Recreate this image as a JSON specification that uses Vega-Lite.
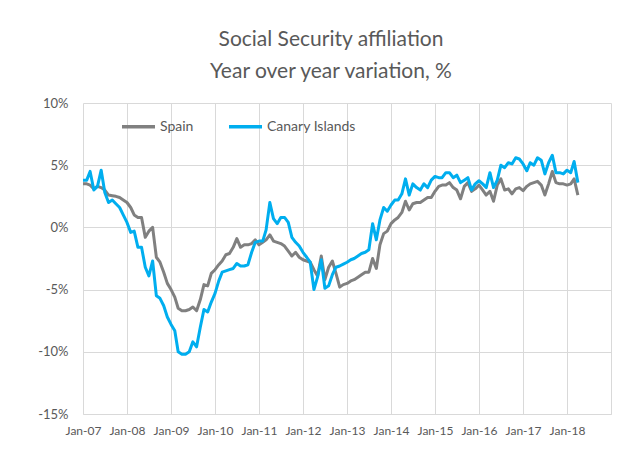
{
  "$schema": "https://vega.github.io/schema/vega-lite/v6.json",
  "width": 528,
  "height": 311,
  "autosize": {"type": "none"},
  "padding": {"left": 83, "top": 103, "right": 19, "bottom": 41},
  "background": "white",
  "title": {
    "text": ["Social Security affiliation", "Year over year variation, %"],
    "anchor": "middle",
    "dx": -16,
    "offset": 15,
    "font": "Lato",
    "fontSize": 21,
    "fontWeight": "normal",
    "color": "#595959",
    "lineHeight": 32
  },
  "config": {
    "view": {"stroke": null},
    "font": "Lato"
  },
  "data": {
    "values": [
      {"d":"2007-01","s":3.5,"c":3.8},{"d":"2007-02","s":3.5,"c":3.8},{"d":"2007-03","s":3.4,"c":4.5},{"d":"2007-04","s":3.1,"c":3.0},{"d":"2007-05","s":3.3,"c":3.3},{"d":"2007-06","s":3.2,"c":4.6},{"d":"2007-07","s":3.0,"c":2.8},{"d":"2007-08","s":2.6,"c":2.0},{"d":"2007-09","s":2.55,"c":2.2},{"d":"2007-10","s":2.5,"c":1.9},{"d":"2007-11","s":2.4,"c":1.6},{"d":"2007-12","s":2.2,"c":1.0},
      {"d":"2008-01","s":2.0,"c":0.4},{"d":"2008-02","s":1.6,"c":-0.4},{"d":"2008-03","s":1.0,"c":-0.3},{"d":"2008-04","s":0.8,"c":-1.6},{"d":"2008-05","s":0.8,"c":-1.6},{"d":"2008-06","s":-0.8,"c":-3.2},{"d":"2008-07","s":-0.3,"c":-3.9},{"d":"2008-08","s":0.0,"c":-2.7},{"d":"2008-09","s":-2.4,"c":-5.5},{"d":"2008-10","s":-2.8,"c":-5.7},{"d":"2008-11","s":-3.6,"c":-6.3},{"d":"2008-12","s":-4.5,"c":-7.2},
      {"d":"2009-01","s":-5.0,"c":-7.8},{"d":"2009-02","s":-5.6,"c":-8.3},{"d":"2009-03","s":-6.5,"c":-10.0},{"d":"2009-04","s":-6.7,"c":-10.2},{"d":"2009-05","s":-6.7,"c":-10.2},{"d":"2009-06","s":-6.6,"c":-10.0},{"d":"2009-07","s":-6.4,"c":-9.2},{"d":"2009-08","s":-6.7,"c":-9.6},{"d":"2009-09","s":-5.8,"c":-8.0},{"d":"2009-10","s":-4.6,"c":-6.6},{"d":"2009-11","s":-4.7,"c":-6.8},{"d":"2009-12","s":-3.7,"c":-6.0},
      {"d":"2010-01","s":-3.4,"c":-5.3},{"d":"2010-02","s":-3.0,"c":-4.3},{"d":"2010-03","s":-2.7,"c":-3.6},{"d":"2010-04","s":-2.2,"c":-3.5},{"d":"2010-05","s":-2.1,"c":-3.4},{"d":"2010-06","s":-1.6,"c":-3.3},{"d":"2010-07","s":-0.9,"c":-2.9},{"d":"2010-08","s":-1.6,"c":-3.1},{"d":"2010-09","s":-1.4,"c":-3.1},{"d":"2010-10","s":-1.4,"c":-3.0},{"d":"2010-11","s":-1.3,"c":-2.0},{"d":"2010-12","s":-1.0,"c":-1.2},
      {"d":"2011-01","s":-1.4,"c":-1.1},{"d":"2011-02","s":-1.2,"c":-1.1},{"d":"2011-03","s":-1.0,"c":-0.2},{"d":"2011-04","s":-0.6,"c":2.0},{"d":"2011-05","s":-1.1,"c":0.7},{"d":"2011-06","s":-1.2,"c":0.3},{"d":"2011-07","s":-1.3,"c":0.8},{"d":"2011-08","s":-1.5,"c":0.8},{"d":"2011-09","s":-1.9,"c":0.4},{"d":"2011-10","s":-2.3,"c":-0.8},{"d":"2011-11","s":-2.0,"c":-1.2},{"d":"2011-12","s":-2.4,"c":-1.5},
      {"d":"2012-01","s":-2.6,"c":-2.0},{"d":"2012-02","s":-2.7,"c":-2.4},{"d":"2012-03","s":-2.8,"c":-2.8},{"d":"2012-04","s":-3.4,"c":-5.0},{"d":"2012-05","s":-3.9,"c":-4.0},{"d":"2012-06","s":-2.3,"c":-2.6},{"d":"2012-07","s":-4.2,"c":-4.9},{"d":"2012-08","s":-3.2,"c":-4.7},{"d":"2012-09","s":-2.7,"c":-3.8},{"d":"2012-10","s":-3.7,"c":-3.2},{"d":"2012-11","s":-4.8,"c":-3.1},{"d":"2012-12","s":-4.6,"c":-2.95},
      {"d":"2013-01","s":-4.5,"c":-2.8},{"d":"2013-02","s":-4.3,"c":-2.6},{"d":"2013-03","s":-4.2,"c":-2.5},{"d":"2013-04","s":-4.0,"c":-2.3},{"d":"2013-05","s":-3.8,"c":-2.1},{"d":"2013-06","s":-3.6,"c":-2.0},{"d":"2013-07","s":-3.6,"c":-1.8},{"d":"2013-08","s":-2.5,"c":0.3},{"d":"2013-09","s":-3.3,"c":-1.0},{"d":"2013-10","s":-1.4,"c":0.6},{"d":"2013-11","s":-0.5,"c":1.6},{"d":"2013-12","s":-0.3,"c":1.3},
      {"d":"2014-01","s":0.3,"c":1.8},{"d":"2014-02","s":0.6,"c":2.2},{"d":"2014-03","s":0.8,"c":2.2},{"d":"2014-04","s":1.2,"c":2.7},{"d":"2014-05","s":2.1,"c":3.9},{"d":"2014-06","s":1.4,"c":2.6},{"d":"2014-07","s":1.9,"c":3.5},{"d":"2014-08","s":2.0,"c":3.2},{"d":"2014-09","s":2.0,"c":3.0},{"d":"2014-10","s":2.2,"c":3.5},{"d":"2014-11","s":2.4,"c":3.2},{"d":"2014-12","s":2.4,"c":3.8},
      {"d":"2015-01","s":2.9,"c":4.1},{"d":"2015-02","s":3.3,"c":4.0},{"d":"2015-03","s":3.4,"c":4.0},{"d":"2015-04","s":3.4,"c":4.4},{"d":"2015-05","s":3.6,"c":4.4},{"d":"2015-06","s":3.2,"c":4.0},{"d":"2015-07","s":3.0,"c":4.2},{"d":"2015-08","s":2.3,"c":3.6},{"d":"2015-09","s":3.3,"c":3.8},{"d":"2015-10","s":3.6,"c":4.0},{"d":"2015-11","s":2.9,"c":3.0},{"d":"2015-12","s":3.1,"c":3.5},
      {"d":"2016-01","s":3.4,"c":3.75},{"d":"2016-02","s":3.0,"c":3.5},{"d":"2016-03","s":2.6,"c":3.2},{"d":"2016-04","s":2.9,"c":4.4},{"d":"2016-05","s":2.1,"c":3.2},{"d":"2016-06","s":3.4,"c":3.8},{"d":"2016-07","s":3.9,"c":5.0},{"d":"2016-08","s":3.0,"c":4.8},{"d":"2016-09","s":3.1,"c":5.2},{"d":"2016-10","s":2.7,"c":5.1},{"d":"2016-11","s":3.1,"c":5.6},{"d":"2016-12","s":3.2,"c":5.5},
      {"d":"2017-01","s":2.95,"c":5.1},{"d":"2017-02","s":3.3,"c":4.55},{"d":"2017-03","s":3.5,"c":5.2},{"d":"2017-04","s":3.6,"c":5.0},{"d":"2017-05","s":3.7,"c":5.6},{"d":"2017-06","s":3.4,"c":5.4},{"d":"2017-07","s":2.6,"c":4.3},{"d":"2017-08","s":3.5,"c":5.2},{"d":"2017-09","s":4.5,"c":5.8},{"d":"2017-10","s":3.6,"c":4.4},{"d":"2017-11","s":3.5,"c":4.4},{"d":"2017-12","s":3.5,"c":4.3},
      {"d":"2018-01","s":3.4,"c":4.6},{"d":"2018-02","s":3.5,"c":4.4},{"d":"2018-03","s":3.9,"c":5.3},{"d":"2018-04","s":2.6,"c":3.6}
    ]
  },
  "encoding": {
    "x": {
      "field": "d",
      "type": "temporal",
      "title": null,
      "scale": {
        "type": "utc",
        "domain": [
          {"year": 2007, "month": 1, "date": 1, "utc": true},
          {"year": 2019, "month": 1, "date": 1, "utc": true}
        ]
      },
      "axis": {
        "values": [
          {"year": 2007, "month": 1, "date": 1, "utc": true},
          {"year": 2008, "month": 1, "date": 1, "utc": true},
          {"year": 2009, "month": 1, "date": 1, "utc": true},
          {"year": 2010, "month": 1, "date": 1, "utc": true},
          {"year": 2011, "month": 1, "date": 1, "utc": true},
          {"year": 2012, "month": 1, "date": 1, "utc": true},
          {"year": 2013, "month": 1, "date": 1, "utc": true},
          {"year": 2014, "month": 1, "date": 1, "utc": true},
          {"year": 2015, "month": 1, "date": 1, "utc": true},
          {"year": 2016, "month": 1, "date": 1, "utc": true},
          {"year": 2017, "month": 1, "date": 1, "utc": true},
          {"year": 2018, "month": 1, "date": 1, "utc": true},
          {"year": 2019, "month": 1, "date": 1, "utc": true}
        ],
        "labelExpr": "utcyear(datum.value) >= 2019 ? '' : utcFormat(datum.value, '%b-%y')",
        "labelFont": "Lato",
        "labelFontSize": 12,
        "labelColor": "#595959",
        "labelPadding": 11,
        "labelFlush": false,
        "labelOverlap": false,
        "ticks": false,
        "domainColor": "#D9D9D9",
        "grid": true,
        "gridColor": "#D9D9D9",
        "gridWidth": 1
      }
    },
    "y": {
      "type": "quantitative",
      "title": null,
      "scale": {"domain": [-15, 10], "nice": false, "zero": false},
      "axis": {
        "values": [-15, -10, -5, 0, 5, 10],
        "labelExpr": "datum.value + '%'",
        "labelFont": "Lato",
        "labelFontSize": 13,
        "labelColor": "#595959",
        "labelPadding": 15,
        "ticks": false,
        "domain": false,
        "grid": true,
        "gridColor": "#D9D9D9",
        "gridWidth": 1
      }
    },
    "color": {
      "type": "nominal",
      "scale": {"domain": ["Spain", "Canary Islands"], "range": ["#808080", "#00AEEF"]},
      "legend": {
        "title": null,
        "orient": "none",
        "legendX": 37,
        "legendY": 5,
        "direction": "horizontal",
        "symbolType": "stroke",
        "symbolSize": 1089,
        "symbolStrokeWidth": 3.5,
        "labelFont": "Lato",
        "labelFontSize": 14,
        "labelColor": "#595959",
        "labelOffset": 3,
        "columnPadding": 28
      }
    }
  },
  "layer": [
    {
      "mark": {"type": "line", "strokeWidth": 3, "strokeJoin": "round"},
      "encoding": {"y": {"field": "s"}, "color": {"datum": "Spain"}}
    },
    {
      "mark": {"type": "line", "strokeWidth": 3, "strokeJoin": "round"},
      "encoding": {"y": {"field": "c"}, "color": {"datum": "Canary Islands"}}
    }
  ]
}
